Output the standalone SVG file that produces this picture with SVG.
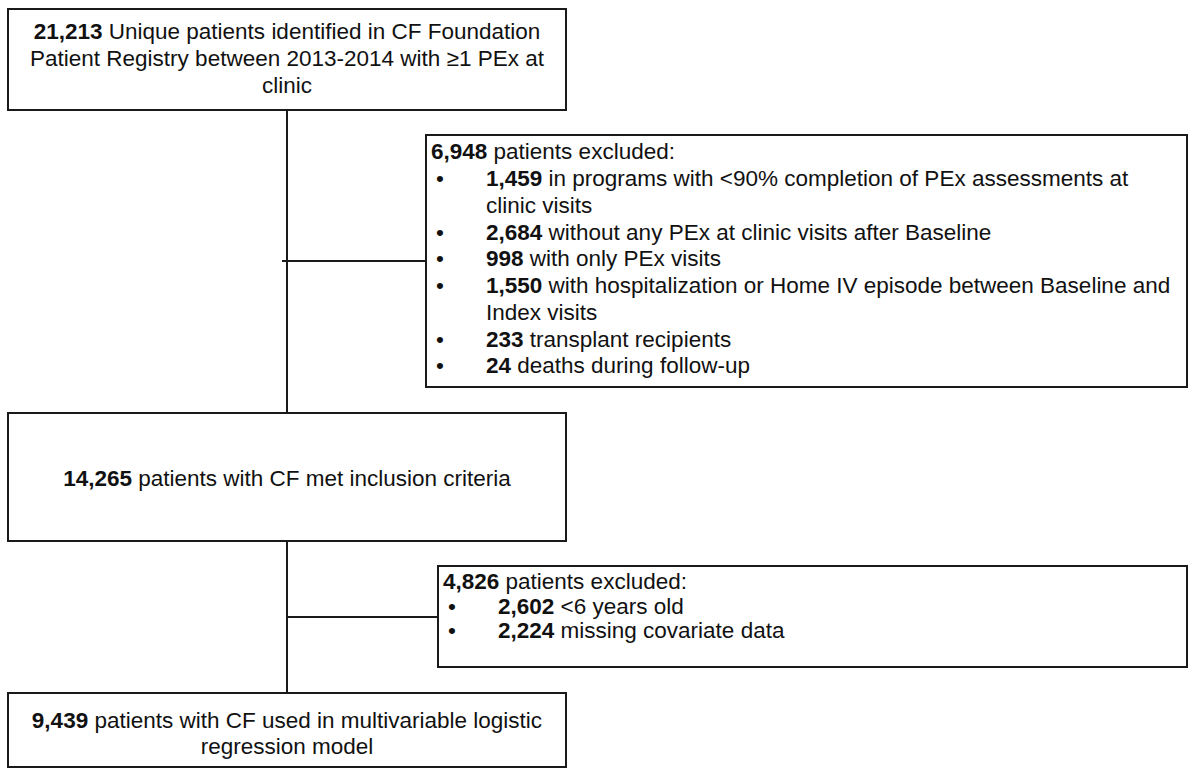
<svg xmlns="http://www.w3.org/2000/svg" width="1199" height="769" viewBox="0 0 1199 769">
<style>
.box{fill:#fff;stroke:#1a1a1a;stroke-width:2}
.ln{stroke:#1a1a1a;stroke-width:2;fill:none}
text{font-family:"Liberation Sans",Arial,sans-serif;font-size:22.5px;fill:#111}
.c{text-anchor:middle}
.b{font-weight:bold}
</style>
<rect width="1199" height="769" fill="#fff"/>
<g id="connectors">
<line class="ln" x1="287" y1="110" x2="287" y2="413"/>
<line class="ln" x1="282" y1="261" x2="426" y2="261"/>
<line class="ln" x1="287" y1="541" x2="287" y2="693"/>
<line class="ln" x1="287" y1="617" x2="438" y2="617"/>
</g>
<g id="identified">
<rect class="box" x="8" y="9" width="558" height="101"/>
<text class="c" x="287" y="38.5"><tspan class="b">21,213</tspan> Unique patients identified in CF Foundation</text>
<text class="c" x="287" y="65.5">Patient Registry between 2013-2014 with ≥1 PEx at</text>
<text class="c" x="287" y="92.5">clinic</text>
</g>
<g id="excluded1">
<rect class="box" x="426" y="135" width="761" height="252"/>
<text x="431" y="159"><tspan class="b">6,948</tspan> patients excluded:</text>
<text x="436" y="186">•</text>
<text x="486" y="186"><tspan class="b">1,459</tspan> in programs with &lt;90% completion of PEx assessments at</text>
<text x="486" y="212.5">clinic visits</text>
<text x="436" y="239.5">•</text>
<text x="486" y="239.5"><tspan class="b">2,684</tspan> without any PEx at clinic visits after Baseline</text>
<text x="436" y="266">•</text>
<text x="486" y="266"><tspan class="b">998</tspan> with only PEx visits</text>
<text x="436" y="293">•</text>
<text x="486" y="293"><tspan class="b">1,550</tspan> with hospitalization or Home IV episode between Baseline and</text>
<text x="486" y="320">Index visits</text>
<text x="436" y="346.5">•</text>
<text x="486" y="346.5"><tspan class="b">233</tspan> transplant recipients</text>
<text x="436" y="373">•</text>
<text x="486" y="373"><tspan class="b">24</tspan> deaths during follow-up</text>
</g>
<g id="included">
<rect class="box" x="8" y="413" width="558" height="128"/>
<text class="c" x="287" y="485.5"><tspan class="b">14,265</tspan> patients with CF met inclusion criteria</text>
</g>
<g id="excluded2">
<rect class="box" x="438" y="566" width="749" height="101"/>
<text x="443" y="589"><tspan class="b">4,826</tspan> patients excluded:</text>
<text x="448" y="613.5">•</text>
<text x="498" y="613.5"><tspan class="b">2,602</tspan> &lt;6 years old</text>
<text x="448" y="638">•</text>
<text x="498" y="638"><tspan class="b">2,224</tspan> missing covariate data</text>
</g>
<g id="model">
<rect class="box" x="8" y="693" width="558" height="74"/>
<text class="c" x="287" y="728"><tspan class="b">9,439</tspan> patients with CF used in multivariable logistic</text>
<text class="c" x="287" y="754">regression model</text>
</g>
</svg>
